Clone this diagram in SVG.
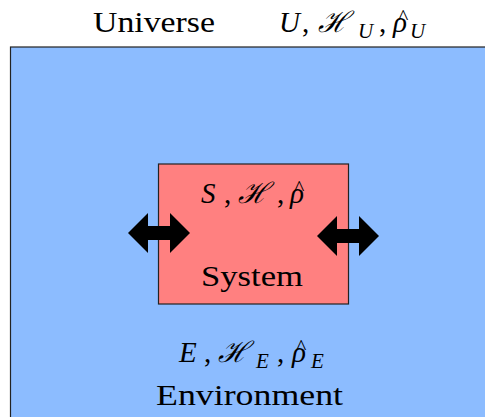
<svg xmlns="http://www.w3.org/2000/svg" width="485" height="417" viewBox="0 0 485 417">
<style>
text{font-family:"Liberation Serif","DejaVu Serif",serif;fill:#000;font-size:29px}
.m{font-style:italic}
.s{font-size:21px;font-style:italic}
.h{font-size:22px}
.box{stroke:#222;stroke-width:1.2}
</style>
<defs>
<polygon id="dbl" points="0,0 20,-20 20,-7 42,-7 42,-20 62,0 42,20 42,7 20,7 20,20"/>
</defs>
<rect width="485" height="417" fill="#fff"/>
<g id="universe">
<rect class="box" x="10.5" y="47" width="480" height="380" fill="#8cbcff"/>
<text x="93" y="32" textLength="122" lengthAdjust="spacingAndGlyphs">Universe</text>
<text y="32"><tspan class="m" x="279">U</tspan><tspan x="302">,</tspan><tspan class="m" x="318">ℋ</tspan><tspan class="s" x="358" y="38">U</tspan><tspan x="379" y="32">,</tspan><tspan class="m" x="393">ρ</tspan><tspan class="s" x="410" y="38">U</tspan><tspan class="h" x="398" y="24">^</tspan></text>
</g>
<g id="system">
<rect class="box" x="158.5" y="164" width="190" height="140" fill="#ff8080"/>
<text y="203"><tspan class="m" x="201">S</tspan><tspan x="224">,</tspan><tspan class="m" x="238">ℋ</tspan><tspan x="277">,</tspan><tspan class="m" x="290">ρ</tspan><tspan class="h" x="294" y="195">^</tspan></text>
<text x="201" y="286" textLength="102" lengthAdjust="spacingAndGlyphs">System</text>
</g>
<g id="environment">
<text y="362"><tspan class="m" x="179">E</tspan><tspan x="204">,</tspan><tspan class="m" x="218">ℋ</tspan><tspan class="s" x="256" y="368">E</tspan><tspan x="277" y="362">,</tspan><tspan class="m" x="292">ρ</tspan><tspan class="s" x="311" y="368">E</tspan><tspan class="h" x="296" y="354">^</tspan></text>
<text x="156" y="405" textLength="187" lengthAdjust="spacingAndGlyphs">Environment</text>
</g>
<g id="connectors">
<use href="#dbl" x="128" y="233"/>
<use href="#dbl" x="317" y="236"/>
</g>
</svg>
